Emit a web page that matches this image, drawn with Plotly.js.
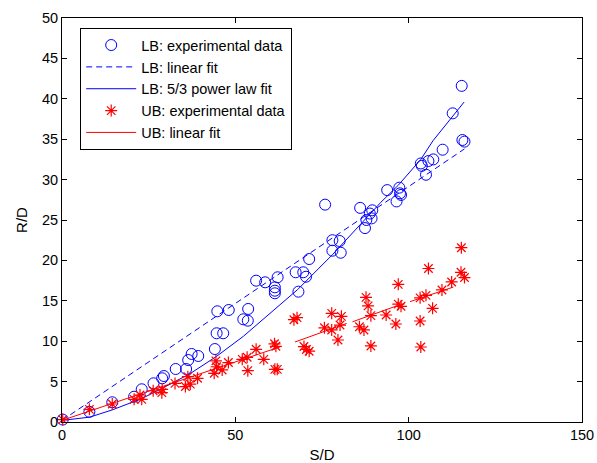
<!DOCTYPE html>
<html>
<head>
<meta charset="utf-8">
<script src="https://cdn.plot.ly/plotly-3.0.1.min.js"></script>
<style>html,body{margin:0;padding:0;background:#fff;}#chart{width:597px;height:463px;}</style>
</head>
<body>
<div id="chart"></div>
<script>
// LB: experimental data (circles)
var lbX = [0.2, 7.9, 14.5, 20.8, 23.0, 26.4, 28.9, 29.4, 32.8, 35.8, 36.4, 37.4, 39.3, 44.1, 44.6, 46.5, 44.8, 48.1,
           52.3, 53.6, 53.7, 56.0, 58.6, 62.2, 61.4, 61.4, 61.4, 67.4, 69.6, 70.4, 68.2, 71.3, 75.9, 78.0, 80.1, 78.0,
           80.4, 86.0, 87.4, 88.8, 89.3, 87.8, 89.5, 93.8, 97.3, 97.5, 97.8, 96.5, 103.5, 103.8, 105.7, 107.1, 109.8,
           105.0, 112.7, 115.3, 115.5, 116.1];
var lbY = [0.3, 1.27, 2.44, 3.13, 4.05, 4.79, 5.41, 5.69, 6.56, 6.56, 7.67, 8.42, 8.17, 9.03, 10.98, 10.98, 13.70, 13.86,
           12.71, 12.54, 13.99, 17.49, 17.29, 17.91, 16.67, 16.25, 15.93, 18.53, 18.53, 17.98, 16.13, 20.17, 26.9, 22.5, 22.4, 21.2,
           20.95, 26.5, 24.0, 25.8, 25.2, 25.0, 26.2, 28.7, 29.0, 28.3, 28.1, 27.3, 32.0, 31.7, 32.3, 32.5, 33.7,
           30.6, 38.2, 41.6, 34.9, 34.7];
// LB: linear fit
var lbLinX = [0, 116.1];
var lbLinY = [0.2, 33.8];
// LB: 5/3 power law fit (polyline vertices)
var lbPowX = [0, 8, 14.5, 23, 29.5, 37, 44.5, 52.3, 68, 78, 92, 97, 103.5, 107, 116];
var lbPowY = [0.2, 0.6, 1.5, 2.9, 4.3, 6.0, 8.1, 10.6, 16.4, 20.7, 27.2, 29.3, 32.5, 34.8, 39.6];
// UB: experimental data (stars)
var ubX = [0.2, 7.9, 14.5, 20.8, 22.5, 23.0, 26.3, 28.9, 28.8, 32.6, 35.6, 37.0, 36.3, 39.1, 43.9, 44.4, 44.6, 46.2, 48.0,
           52.0, 53.4, 53.6, 56.0, 58.2, 61.3, 61.7, 61.4, 62.1, 66.9, 67.8, 69.8, 70.5, 71.3, 77.8, 80.6, 80.2, 75.7,
           77.8, 79.6, 87.7, 88.3, 89.1, 85.8, 87.1, 89.1, 93.5, 96.3, 97.0, 97.0, 97.8, 103.3, 105.0, 105.7, 106.9,
           103.3, 103.5, 109.6, 112.4, 115.2, 115.1, 116.1];
var ubY = [0.3, 1.57, 2.23, 2.81, 3.34, 2.81, 3.87, 4.05, 3.63, 4.78, 4.39, 4.68, 5.61, 5.41, 6.03, 7.57, 6.84, 6.44, 7.36,
           7.76, 8.01, 6.35, 9.0, 7.76, 9.68, 9.37, 6.52, 6.52, 12.66, 12.91, 9.34, 8.97, 8.76, 13.45, 13.08, 12.0, 11.66,
           11.39, 10.15, 15.43, 14.38, 13.16, 11.79, 11.39, 9.41, 13.24, 12.13, 17.04, 14.58, 14.32, 15.37, 15.68, 19.0, 14.07,
           12.5, 9.28, 16.34, 17.33, 21.57, 18.53, 17.88];
// UB: linear fit (segments with gaps)
var ubLinX = [0, 62.9, null, 67.2, 82.1, null, 83.8, 96.1, null, 100.4, 112.9];
var ubLinY = [0.2, 9.3, null, 9.9, 12.2, null, 12.4, 14.3, null, 14.9, 16.7];

var blue = '#0000FF', red = '#FF0000';
var traces = [
  {x: lbX, y: lbY, type: 'scatter', mode: 'markers', name: 'LB: experimental data', cliponaxis: false,
   marker: {symbol: 'circle-open', size: 11, color: blue, line: {color: blue, width: 1}}},
  {x: lbLinX, y: lbLinY, type: 'scatter', mode: 'lines', name: 'LB: linear fit',
   line: {color: blue, width: 1, dash: '6px,4px'}},
  {x: lbPowX, y: lbPowY, type: 'scatter', mode: 'lines', name: 'LB: 5/3 power law fit',
   line: {color: blue, width: 1}},
  {x: ubX, y: ubY, type: 'scatter', mode: 'markers', name: 'UB: experimental data', cliponaxis: false,
   marker: {symbol: 'asterisk-open', size: 10, color: red, line: {color: red, width: 1.2}}},
  {x: ubLinX, y: ubLinY, type: 'scatter', mode: 'lines', name: 'UB: linear fit', connectgaps: false,
   line: {color: red, width: 1}}
];

var fam = 'Liberation Sans, Arial, sans-serif';
var axisCommon = {
  showline: true, linecolor: '#000', linewidth: 1, mirror: 'ticks',
  ticks: 'inside', ticklen: 5, tickcolor: '#000', tickwidth: 1,
  showgrid: false, zeroline: false,
  tickfont: {family: fam, size: 14.5, color: '#000'}
};
var layout = {
  width: 597, height: 463,
  margin: {l: 62, r: 15, t: 18, b: 41},
  paper_bgcolor: '#fff', plot_bgcolor: '#fff',
  font: {family: fam, size: 14, color: '#000'},
  xaxis: Object.assign({}, axisCommon, {range: [0, 150], tickvals: [0, 50, 100, 150],
    title: {text: 'S/D', standoff: 9, font: {family: fam, size: 15}}}),
  yaxis: Object.assign({}, axisCommon, {range: [0, 50], dtick: 5,
    title: {text: 'R/D', standoff: 10, font: {family: fam, size: 15}}}),
  showlegend: true,
  legend: {x: 0.035, y: 0.975, xanchor: 'left', yanchor: 'top',
    bgcolor: '#fff', bordercolor: '#000', borderwidth: 1,
    font: {family: fam, size: 14.5, color: '#000'},
    itemwidth: 50}
};
Plotly.newPlot('chart', traces, layout, {staticPlot: true});
</script>
</body>
</html>
